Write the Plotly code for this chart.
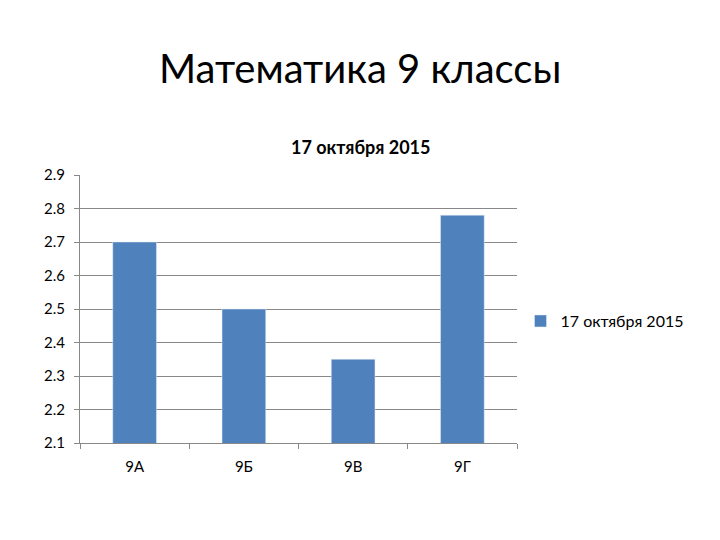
import plotly.graph_objects as go

# Data
classes = ['9А', '9Б', '9В', '9Г']
scores = [2.7, 2.5, 2.35, 2.78]
series_name = '17 октября 2015'

W, H = 720, 540
L, R, T, B = 72, 211, 167, 105
plot_w = W - L - R
plot_h = H - T - B

fig = go.Figure()

fig.add_trace(go.Bar(
    x=classes,
    y=scores,
    name=series_name,
    marker=dict(color='#4F81BD'),
    showlegend=True
))

fig.update_layout(
    width=W, height=H,
    margin=dict(l=L, r=R, t=T, b=B),
    plot_bgcolor='white',
    paper_bgcolor='white',
    font=dict(family='Lato, Noto Sans, sans-serif', color='black'),
    bargap=0.6,
    showlegend=True,
    legend=dict(x=1.008, y=0.455, xanchor='left', yanchor='middle',
                font=dict(size=16), itemwidth=30),
    xaxis=dict(
        tickson='boundaries', ticks='outside', ticklen=5, tickcolor='#888',
        showline=True, linecolor='#888', tickfont=dict(size=15),
        showgrid=False, ticklabelstandoff=10
    ),
    yaxis=dict(
        range=[2.1, 2.9], dtick=0.1, tickformat='.1f',
        showgrid=True, gridcolor='#888', gridwidth=1,
        showline=True, linecolor='#888', ticks='outside', ticklen=5, tickcolor='#888',
        tickfont=dict(size=15), zeroline=False, ticklabelstandoff=6
    ),
)

# Titles placed relative to the plot area
fig.add_annotation(text='Математика 9 классы', xref='paper', yref='paper',
                   x=(352 - L) / plot_w, y=1 + (T - 60) / plot_h,
                   showarrow=False, font=dict(size=40), yanchor='middle')
fig.add_annotation(text='<b>17 октября 2015</b>', xref='paper', yref='paper',
                   x=(352 - L) / plot_w, y=1 + (T - 139) / plot_h,
                   showarrow=False, font=dict(size=18), yanchor='middle')

fig.write_html('out.html')
